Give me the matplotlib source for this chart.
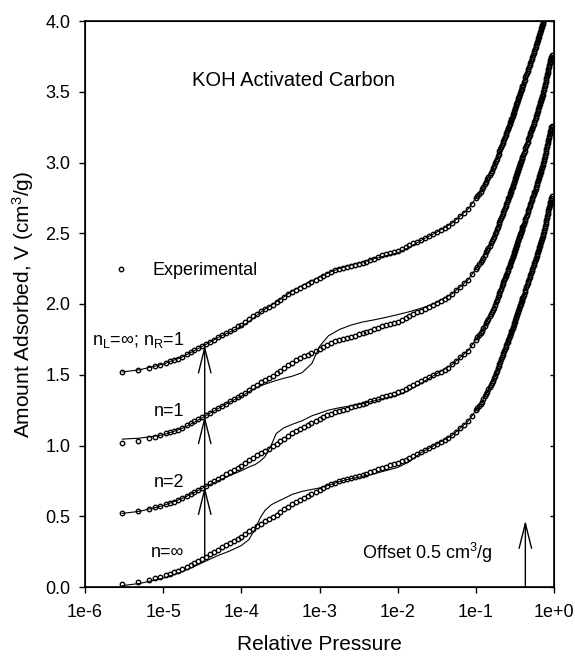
import numpy as np
import matplotlib
matplotlib.use("Agg")
import matplotlib.pyplot as plt
from matplotlib.ticker import NullLocator

plt.rcParams['font.family'] = ['Liberation Sans', 'DejaVu Sans']
plt.rcParams['mathtext.fontset'] = 'custom'
plt.rcParams['mathtext.rm'] = 'Liberation Sans'
plt.rcParams['mathtext.it'] = 'Liberation Sans:italic'

# experimental isotherm (no offset), relative pressure / cm3/g
p_low = [2.95e-6, 4.8e-6, 6.5e-6, 7.9e-6, 9.1e-6, 1.09e-5, 1.22e-5, 1.39e-5, 1.56e-5, 1.75e-5,
         2.0e-5, 2.25e-5, 2.5e-5, 2.8e-5, 3.15e-5, 3.5e-5, 4.0e-5, 4.5e-5, 5.0e-5, 5.6e-5,
         6.3e-5, 7.1e-5, 8.0e-5, 9.0e-5, 1.0e-4, 1.12e-4, 1.26e-4, 1.41e-4, 1.58e-4, 1.78e-4,
         2.0e-4, 2.24e-4, 2.51e-4, 2.82e-4, 3.16e-4, 3.55e-4, 3.98e-4, 4.47e-4, 5.0e-4, 5.6e-4,
         6.3e-4, 7.1e-4, 7.9e-4, 8.9e-4, 1.0e-3, 1.12e-3, 1.26e-3, 1.41e-3, 1.58e-3, 1.78e-3,
         2.0e-3, 2.24e-3, 2.51e-3, 2.82e-3, 3.16e-3, 3.55e-3, 3.98e-3, 4.47e-3, 5.0e-3, 5.6e-3,
         6.3e-3, 7.1e-3, 7.9e-3, 8.9e-3, 1.0e-2, 1.12e-2, 1.26e-2, 1.41e-2, 1.58e-2, 1.78e-2,
         2.0e-2, 2.24e-2, 2.51e-2, 2.82e-2, 3.16e-2, 3.55e-2, 3.98e-2, 4.47e-2, 5.0e-2, 5.6e-2,
         6.3e-2, 7.1e-2, 7.9e-2, 8.9e-2]
v_low = [0.020, 0.035, 0.050, 0.063, 0.072, 0.085, 0.094, 0.104, 0.113, 0.127,
         0.144, 0.158, 0.172, 0.186, 0.201, 0.214, 0.233, 0.249, 0.264, 0.280,
         0.296, 0.311, 0.326, 0.341, 0.355, 0.374, 0.394, 0.413, 0.431, 0.447,
         0.463, 0.478, 0.494, 0.511, 0.530, 0.549, 0.568, 0.586, 0.601, 0.615,
         0.629, 0.643, 0.657, 0.671, 0.685, 0.699, 0.713, 0.726, 0.738, 0.746,
         0.754, 0.761, 0.769, 0.777, 0.785, 0.792, 0.800, 0.811, 0.821, 0.832,
         0.843, 0.851, 0.859, 0.867, 0.875, 0.888, 0.901, 0.914, 0.928, 0.941,
         0.954, 0.967, 0.981, 0.995, 1.009, 1.022, 1.036, 1.050, 1.073, 1.097,
         1.122, 1.146, 1.170, 1.209]
p_high = [0.10, 0.11, 0.12, 0.13, 0.14, 0.15, 0.16, 0.17, 0.18, 0.19,
          0.20, 0.21, 0.22, 0.23, 0.24, 0.25, 0.26, 0.27, 0.28, 0.29,
          0.30, 0.31, 0.32, 0.33, 0.34, 0.35, 0.36, 0.37, 0.38, 0.39,
          0.40, 0.41, 0.42, 0.43, 0.44, 0.45, 0.46, 0.47, 0.48, 0.49,
          0.50, 0.51, 0.52, 0.53, 0.54, 0.55, 0.56, 0.57, 0.58, 0.59,
          0.60, 0.61, 0.62, 0.63, 0.64, 0.65, 0.66, 0.67, 0.68, 0.69,
          0.70, 0.71, 0.72, 0.73, 0.74, 0.75, 0.76, 0.77, 0.78, 0.79,
          0.80, 0.81, 0.82, 0.83, 0.84, 0.85, 0.86, 0.87, 0.88, 0.89,
          0.90, 0.91, 0.92, 0.93]
v_high = [1.248, 1.280, 1.310, 1.347, 1.381, 1.413, 1.443, 1.475, 1.511, 1.546,
          1.578, 1.609, 1.639, 1.667, 1.695, 1.721, 1.747, 1.772, 1.795, 1.818,
          1.840, 1.864, 1.887, 1.910, 1.931, 1.953, 1.973, 1.993, 2.012, 2.032,
          2.050, 2.067, 2.084, 2.101, 2.117, 2.132, 2.148, 2.163, 2.177, 2.192,
          2.206, 2.220, 2.234, 2.247, 2.260, 2.274, 2.288, 2.301, 2.315, 2.328,
          2.341, 2.353, 2.366, 2.378, 2.390, 2.402, 2.413, 2.425, 2.436, 2.447,
          2.458, 2.469, 2.480, 2.495, 2.510, 2.525, 2.539, 2.554, 2.568, 2.581,
          2.595, 2.609, 2.622, 2.636, 2.649, 2.662, 2.675, 2.687, 2.700, 2.712,
          2.724, 2.736, 2.748, 2.760]
# extra points in the knee where the instrument sampled more finely
p_knee = [0.105, 0.115, 0.125, 0.135, 0.145, 0.155, 0.165, 0.175, 0.185, 0.195,
          0.205, 0.215, 0.225, 0.235, 0.245, 0.255, 0.265, 0.275, 0.285, 0.295,
          0.305, 0.315, 0.325, 0.335, 0.345, 0.355, 0.365, 0.375, 0.385, 0.395]
v_knee = [1.264, 1.295, 1.328, 1.364, 1.397, 1.428, 1.459, 1.493, 1.528, 1.562,
          1.593, 1.624, 1.653, 1.681, 1.708, 1.734, 1.759, 1.783, 1.806, 1.829,
          1.852, 1.875, 1.898, 1.920, 1.942, 1.963, 1.983, 2.002, 2.022, 2.041]

# model fits (no offset)
p_mod = [3e-6, 5e-6, 1e-5, 1.75e-5, 2.5e-5, 3.5e-5, 5e-5, 7e-5, 1e-4, 1.25e-4,
         1.5e-4, 1.75e-4, 2e-4, 2.4e-4, 2.8e-4, 3.5e-4, 4.5e-4, 6e-4, 8e-4, 1e-3,
         1.3e-3, 1.8e-3, 2.5e-3, 3.5e-3, 5e-3, 7e-3, 1e-2, 1.4e-2, 2e-2, 3e-2,
         5e-2, 8e-2, 0.12, 0.17, 0.23, 0.30, 0.40, 0.54, 0.72, 0.93]
v_ninf = [0.010, 0.025, 0.062, 0.108, 0.145, 0.183, 0.222, 0.253, 0.293, 0.335,
          0.410, 0.490, 0.540, 0.580, 0.600, 0.625, 0.655, 0.676, 0.690, 0.700,
          0.718, 0.745, 0.765, 0.780, 0.800, 0.822, 0.845, 0.885, 0.950, 1.003,
          1.073, 1.172, 1.310, 1.475, 1.667, 1.840, 2.050, 2.260, 2.480, 2.760]
v_n2 = [0.020, 0.035, 0.075, 0.125, 0.168, 0.210, 0.250, 0.285, 0.322, 0.348,
        0.365, 0.390, 0.420, 0.500, 0.585, 0.625, 0.650, 0.675, 0.710, 0.728,
        0.750, 0.767, 0.780, 0.795, 0.815, 0.835, 0.855, 0.890, 0.940, 1.000,
        1.073, 1.172, 1.310, 1.475, 1.667, 1.840, 2.050, 2.260, 2.480, 2.760]
v_n1 = [0.045, 0.052, 0.075, 0.120, 0.165, 0.210, 0.260, 0.305, 0.348, 0.380,
        0.405, 0.420, 0.433, 0.448, 0.460, 0.475, 0.490, 0.515, 0.580, 0.700,
        0.775, 0.820, 0.850, 0.872, 0.888, 0.905, 0.925, 0.945, 0.970, 1.005,
        1.073, 1.172, 1.310, 1.475, 1.667, 1.840, 2.050, 2.260, 2.480, 2.760]
v_nlr = [0.020, 0.035, 0.075, 0.125, 0.170, 0.213, 0.262, 0.300, 0.340, 0.375,
         0.410, 0.440, 0.462, 0.490, 0.515, 0.550, 0.592, 0.630, 0.665, 0.690,
         0.720, 0.752, 0.775, 0.795, 0.820, 0.840, 0.862, 0.900, 0.950, 1.000,
         1.073, 1.172, 1.310, 1.475, 1.667, 1.840, 2.050, 2.260, 2.480, 2.760]

offsets = [0.0, 0.5, 1.0, 1.5]
model_labels = ['n=\u221e', 'n=2', 'n=1',
                'n$_\\mathregular{L}$=\u221e; n$_\\mathregular{R}$=1']

x_ticks = [1e-6, 1e-5, 1e-4, 1e-3, 1e-2, 1e-1, 1e0]
x_ticklabels = ['1e-6', '1e-5', '1e-4', '1e-3', '1e-2', '1e-1', '1e+0']
y_ticks = [0.0, 0.5, 1.0, 1.5, 2.0, 2.5, 3.0, 3.5, 4.0]

arrow_p = 3.4e-5
arrow_v = 0.21
label_p = 1.85e-5
offset_arrow_p = 0.43
offset_arrow_top = 0.47

p_exp = np.array(p_low + p_knee + p_high)
v_exp = np.array(v_low + v_knee + v_high)
models = [v_ninf, v_n2, v_n1, v_nlr]

fig = plt.figure(figsize=(5.75, 6.56), dpi=100)
ax = fig.add_axes([85/575, 1-587/656, 469/575, 566/656])

for i, (off, vm) in enumerate(zip(offsets, models)):
    ax.plot(p_mod, np.array(vm) + off, color='black', lw=0.8, zorder=2)
    ax.plot(p_exp, v_exp + off, ls='none', marker='o', ms=3.2, mfc='none', mec='black',
            mew=1.0, zorder=3, label='Experimental' if i == 0 else None)

ax.set_xscale('log')
ax.set_xlim(1e-6, 1e0)
ax.set_ylim(0, 4)
ax.set_xticks(x_ticks)
ax.set_xticklabels(x_ticklabels)
ax.xaxis.set_minor_locator(NullLocator())
ax.set_yticks(y_ticks)
ax.set_yticklabels(['%.1f' % t for t in y_ticks])
ax.tick_params(axis='both', labelsize=13, width=1.0, direction='out')
ax.tick_params(axis='y', length=4.5, pad=6)
ax.tick_params(axis='x', length=4, pad=8)
for s in ax.spines.values():
    s.set_linewidth(1.2)

# inward ticks on the right spine
ax2 = ax.twinx()
ax2.set_ylim(0, 4)
ax2.set_yticks(y_ticks)
ax2.tick_params(axis='y', direction='in', length=3, width=1.0, labelright=False)
ax2.xaxis.set_minor_locator(NullLocator())

ax.set_xlabel('Relative Pressure', fontsize=15, labelpad=10)
ax.set_ylabel('Amount Adsorbed, V (cm$^3$/g)', fontsize=15, labelpad=7)

# offset arrows
head = '->,head_length=1.8,head_width=0.45'
tips = [arrow_v + o for o in offsets]
for y0, y1 in zip(tips[:-1], tips[1:]):
    ax.annotate('', xy=(arrow_p, y1), xytext=(arrow_p, y0),
                arrowprops=dict(arrowstyle=head, lw=1.0, color='black',
                                shrinkA=0, shrinkB=0, mutation_scale=10))
ax.annotate('', xy=(offset_arrow_p, offset_arrow_top), xytext=(offset_arrow_p, 0),
            arrowprops=dict(arrowstyle=head, lw=1.0, color='black',
                            shrinkA=0, shrinkB=0, mutation_scale=10))

for lab, y in zip(model_labels, tips):
    ax.text(label_p, y, lab, fontsize=13, ha='right', va='baseline')

ax.text(4.7e-4, 3.54, 'KOH Activated Carbon', fontsize=14.5, ha='center', va='baseline')
ax.text(2.43e-2, 0.2, 'Offset 0.5 cm$^3$/g', fontsize=13, ha='center', va='baseline')

ax.legend(loc='center left', bbox_to_anchor=(0.0377, 0.559), frameon=False,
          fontsize=13, handlelength=2, handletextpad=0.78, borderpad=0,
          borderaxespad=0, numpoints=1)

fig.savefig('out.png', dpi=100)
